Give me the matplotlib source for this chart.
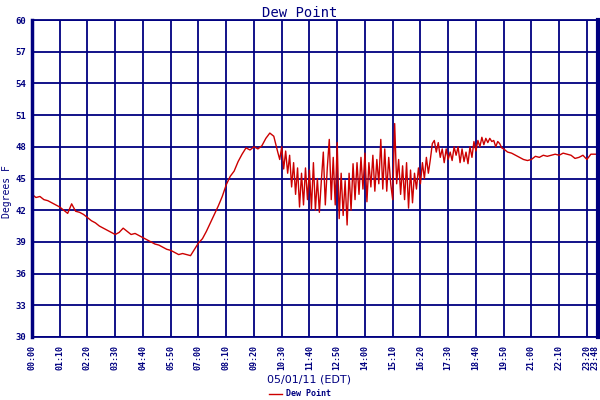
import numpy as np
import matplotlib
matplotlib.use("Agg")
import matplotlib.pyplot as plt
import matplotlib.transforms as mtransforms

# dew point, minutes after midnight 05/01/11
early_min = np.arange(0, 621, 10)
early_val = [43.5, 43.2, 43.3, 43.0, 42.9, 42.7, 42.5, 42.3, 42.0, 41.7,
             42.6, 41.9, 41.8, 41.6, 41.3, 41.0, 40.8, 40.5, 40.3, 40.1,
             39.9, 39.7, 39.9, 40.3, 40.0, 39.7, 39.8, 39.6, 39.4, 39.2,
             39.0, 38.8, 38.7, 38.5, 38.3, 38.2, 38.0, 37.8, 37.9, 37.8,
             37.7, 38.3, 38.9, 39.3, 40.0, 40.8, 41.6, 42.4, 43.3, 44.4,
             45.2, 45.7, 46.6, 47.3, 47.9, 47.7, 48.0, 47.8, 48.1, 48.8,
             49.3, 49.0, 47.5]

noisy_min = np.arange(625, 1186, 5)
noisy_val = [46.8, 48.0, 45.9, 47.6, 45.5, 47.2, 44.2, 46.5, 43.5, 46.0,
             42.3, 45.5, 42.5, 46.0, 43.0, 45.8, 42.1, 46.5, 42.0, 45.0,
             41.8, 44.8, 47.5, 42.5, 46.0, 48.7, 43.0, 47.0, 42.5, 48.4,
             41.2, 45.5, 41.5, 44.8, 40.6, 45.5, 42.0, 46.4, 43.0, 46.5,
             43.5, 47.0, 44.0, 47.4, 42.8, 46.5, 44.2, 47.2, 43.8, 46.8,
             44.5, 48.7, 44.0, 47.8, 43.8, 47.0, 44.5, 43.0, 50.2, 44.5,
             46.8, 43.5, 46.2, 43.0, 46.5, 42.2, 45.8, 42.7, 45.5, 44.0,
             46.0, 44.5, 46.5, 45.0, 47.0, 45.5, 46.8, 48.3, 48.6, 47.5,
             48.4, 47.0, 47.8, 46.5, 47.8, 46.8, 47.5, 46.7, 48.0, 47.2,
             48.0, 46.5, 47.8, 46.6, 47.5, 46.4, 48.0, 47.0, 48.5, 47.6,
             48.6, 48.0, 48.9, 48.2, 48.8, 48.4, 48.8, 48.5, 48.6, 48.0,
             48.5, 48.3, 47.9]

late_min = [1190, 1200, 1210, 1220, 1230, 1240, 1250, 1260, 1270, 1280,
            1290, 1300, 1310, 1320, 1330, 1340, 1350, 1360, 1370, 1380,
            1390, 1400, 1410, 1420, 1428]
late_val = [47.8, 47.5, 47.4, 47.2, 47.0, 46.8, 46.7, 46.8, 47.1, 47.0,
            47.2, 47.1, 47.2, 47.3, 47.2, 47.4, 47.3, 47.2, 46.9, 47.0,
            47.2, 46.8, 47.3, 47.3, 47.3]

tick_min = list(range(0, 1401, 70)) + [1428]
tick_lbl = ["%02d:%02d" % (m // 60, m % 60) for m in tick_min]
y_ticks = list(range(30, 61, 3))

minutes = np.concatenate([early_min, noisy_min, late_min])
dew = np.concatenate([early_val, noisy_val, late_val])

navy = "#000080"
mono = "DejaVu Sans Mono"

fig = plt.figure(figsize=(6, 4), dpi=100)
ax = fig.add_axes([32 / 600, 63 / 400, 566 / 600, 317 / 400])
line, = ax.plot(minutes, dew, color="#cc0000", lw=1.0, label="Dew Point")

ax.set_xlim(0, 1428)
ax.set_ylim(30, 60)
ax.set_xticks(tick_min)
ax.set_xticklabels(tick_lbl, rotation=90, family=mono, fontsize=6,
                   fontweight="bold", color=navy)
ax.set_yticks(y_ticks)
ax.set_yticklabels([str(v) for v in y_ticks], family=mono, fontsize=6.5,
                   fontweight="bold", color=navy)
ax.tick_params(length=0, pad=4)
ax.tick_params(axis="x", pad=6)
ax.grid(True, color=navy, lw=1.3)
ax.set_axisbelow(True)
for s in ax.spines.values():
    s.set_color(navy)
    s.set_linewidth(1.3)
ax.spines["left"].set_linewidth(2.5)
ax.spines["right"].set_linewidth(3)

# last label sits at the right edge, nudge it in a little
last = ax.get_xticklabels()[-1]
last.set_transform(last.get_transform() +
                   mtransforms.ScaledTranslation(-3 / 100, 0, fig.dpi_scale_trans))

fig.text(0.5, 0.985, "Dew Point", ha="center", va="top", family=mono,
         fontsize=10, color=navy)
fig.text(0.515, 0.052, "05/01/11 (EDT)", ha="center", va="center",
         fontsize=8, color=navy)
fig.text(0.012, 0.52, "Degrees F", rotation=90, ha="center", va="center",
         family=mono, fontsize=7, color=navy)
fig.legend(handles=[line], loc="center", bbox_to_anchor=(0.5, 0.015),
           frameon=False, prop={"family": mono, "size": 6, "weight": "bold"},
           labelcolor=navy, handlelength=1.6, handletextpad=0.4)

fig.savefig("out.png", dpi=100)
